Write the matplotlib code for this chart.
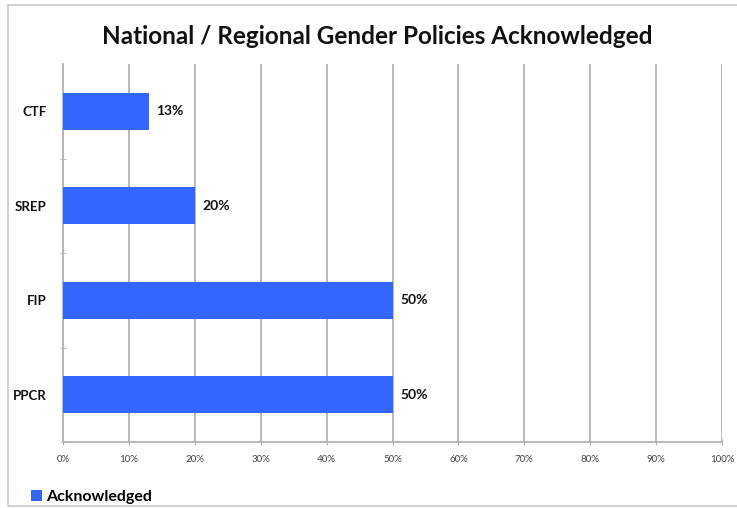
import matplotlib
matplotlib.use("Agg")
import matplotlib.pyplot as plt
from matplotlib.patches import Rectangle

categories = ["PPCR", "FIP", "SREP", "CTF"]
values = [50, 50, 20, 13]
xticks = [0, 10, 20, 30, 40, 50, 60, 70, 80, 90, 100]
title = "National / Regional Gender Policies Acknowledged"
series_name = "Acknowledged"

plt.rcParams['font.family'] = ['Lato', 'DejaVu Sans']
bar_color = "#3366ff"
grid_color = "#b3b3b3"

fig = plt.figure(figsize=(7.37, 5.08), dpi=100)
# outer frame of the chart box
fig.patches.append(Rectangle((8 / 737, 2 / 508), 740 / 737, 501 / 508,
                             transform=fig.transFigure, fill=False,
                             edgecolor="#c8c8c8", linewidth=1.2))

ax = fig.add_axes([63 / 737, 1 - 442 / 508, (722 - 63) / 737, (442 - 64) / 508])
pos = list(range(len(categories)))
bars = ax.barh(pos, values, height=0.39, color=bar_color, label=series_name, zorder=3)

for p, v in zip(pos, values):
    ax.text(v + 1.2, p, "%d%%" % v, va="center", ha="left",
            fontsize=10, fontweight="bold", color="#111111")

ax.set_xlim(0, 100)
ax.set_ylim(-0.5, len(categories) - 0.5)
ax.set_xticks(xticks)
ax.set_xticklabels(["%d%%" % t for t in xticks], fontsize=7, color="#444444")
ax.set_yticks(pos)
ax.set_yticklabels(categories, fontsize=9.5, fontweight="bold", color="#111111")
ax.tick_params(axis="y", length=0, pad=12)
ax.tick_params(axis="x", length=4, color=grid_color, direction="inout", pad=7)
# small ticks between categories
ax.set_yticks([p + 0.5 for p in pos[:-1]] + [-0.5], minor=True)
ax.tick_params(axis="y", which="minor", length=4, color=grid_color, direction="inout")

ax.grid(axis="x", color=grid_color, linewidth=1.3, zorder=0)
for s in ["top", "right"]:
    ax.spines[s].set_visible(False)
ax.spines["left"].set_color(grid_color)
ax.spines["bottom"].set_color(grid_color)
ax.spines["left"].set_linewidth(1.3)
ax.spines["bottom"].set_linewidth(1.3)

fig.text(377 / 737, 1 - 36 / 508, title, ha="center", va="center",
         fontsize=17.5, fontweight="bold", color="#111111")

leg = fig.legend(handles=[bars], labels=[series_name], loc="center left",
                 bbox_to_anchor=(17 / 737, 1 - 497 / 508), frameon=False,
                 handlelength=0.65, handleheight=0.65, handletextpad=0.3,
                 prop={"size": 11.5, "weight": "bold"})

fig.savefig("out.png", dpi=100)
